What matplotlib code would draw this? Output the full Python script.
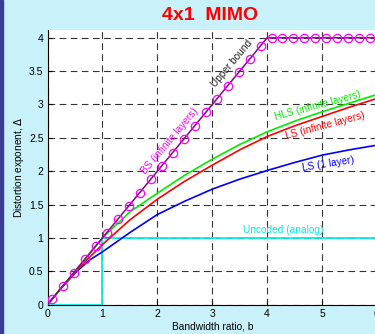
import matplotlib
matplotlib.use("Agg")
import matplotlib.pyplot as plt
from matplotlib.patches import Rectangle

plt.rcParams['font.family'] = ['Liberation Sans', 'DejaVu Sans']

# bandwidth ratio samples for the curves
b = [0, 0.25, 0.5, 0.75, 1.0, 1.5, 2.0, 2.5, 3.0, 3.5, 4.0, 4.5, 5.0, 5.5, 6.0]
hls_inf = [0, 0.25, 0.50, 0.75, 1.00, 1.39, 1.67, 1.94, 2.18, 2.40, 2.59, 2.75, 2.89, 3.02, 3.15]
ls_inf = [0, 0.25, 0.48, 0.70, 0.90, 1.27, 1.58, 1.85, 2.09, 2.32, 2.52, 2.68, 2.82, 2.96, 3.09]
ls_one = [0, 0.25, 0.47, 0.66, 0.79, 1.08, 1.35, 1.55, 1.73, 1.88, 2.01, 2.13, 2.24, 2.32, 2.39]

# upper bound (BS, infinite layers)
ub_b = [0, 4, 6]
ub_d = [0, 4, 4]
ub_mark_b = [0.08, 0.28, 0.48, 0.68, 0.88, 1.08, 1.28, 1.48, 1.68, 1.88,
             2.08, 2.28, 2.48, 2.68, 2.88, 3.08, 3.28, 3.48, 3.68, 3.88,
             4.08, 4.28, 4.48, 4.68, 4.88, 5.08, 5.28, 5.48, 5.68, 5.88]
ub_mark_d = [0.08, 0.28, 0.48, 0.68, 0.88, 1.08, 1.28, 1.48, 1.68, 1.88,
             2.08, 2.28, 2.48, 2.68, 2.88, 3.08, 3.28, 3.48, 3.68, 3.88,
             4, 4, 4, 4, 4, 4, 4, 4, 4, 4]

# uncoded (analog)
unc_b = [0, 1, 1, 6]
unc_d = [0, 0, 1, 1]

xticks = [0, 1, 2, 3, 4, 5, 6]
yticks = [0, 0.5, 1, 1.5, 2, 2.5, 3, 3.5, 4]
ytick_labels = ['0', '0.5', '1', '1.5', '2', '2.5', '3', '3.5', '4']

bg = '#c8f1f9'
fig = plt.figure(figsize=(3.75, 3.34), dpi=100, facecolor=bg)
fig.patches.append(Rectangle((0, 0), 3 / 375, 1, transform=fig.transFigure,
                             color='#3b3b98', zorder=5))
ax = fig.add_axes([0.127, 0.0883, 0.878, 0.8204])
ax.set_facecolor('white')

ax.plot(unc_b, unc_d, color='#00eeee', lw=1.3, zorder=3)
ax.plot(b, ls_one, color='#0000ff', lw=1.2, zorder=3)
ax.plot(b, ls_inf, color='#ff0000', lw=1.2, zorder=3)
ax.plot(b, hls_inf, color='#00ee00', lw=1.2, zorder=3)
ax.plot(ub_b, ub_d, color='#8a008a', lw=1.1, zorder=4)
ax.plot(ub_mark_b, ub_mark_d, ls='none', marker='o', ms=6, mfc='none',
        mec='#ff00ff', mew=0.9, zorder=5)

fs = 7.3
ax.text(3.36, 3.62, 'Upper bound', rotation=50, color='#222222', fontsize=fs,
        ha='center', va='center', rotation_mode='anchor')
ax.text(2.22, 2.45, 'BS (infinite layers)', rotation=50, color='#ff00ff', fontsize=fs,
        ha='center', va='center', rotation_mode='anchor')
ax.text(4.93, 2.98, 'HLS (infinite layers)', rotation=15, color='#00ee00', fontsize=fs,
        ha='center', va='center', rotation_mode='anchor')
ax.text(5.06, 2.68, 'LS (infinite layers)', rotation=15, color='#ff0000', fontsize=fs,
        ha='center', va='center', rotation_mode='anchor')
ax.text(5.11, 2.11, 'LS (1 layer)', rotation=9, color='#0000ff', fontsize=fs,
        ha='center', va='center', rotation_mode='anchor')
ax.text(4.3, 1.12, 'Uncoded (analog)', color='#00eeee', fontsize=fs,
        ha='center', va='center')

ax.set_xlim(0, 6)
ax.set_ylim(0, 4.11)
ax.set_xticks(xticks)
ax.set_yticks(yticks)
ax.set_yticklabels(ytick_labels)
ax.tick_params(direction='in', length=3, labelsize=7.5, pad=3, colors='black')
ax.grid(True, color='black', lw=0.8, linestyle=(0, (6, 4)), alpha=0.8)
ax.spines['top'].set_visible(False)
ax.spines['right'].set_visible(False)
ax.set_xlabel('Bandwidth ratio, b', fontsize=7.3, labelpad=2)
ax.set_ylabel('Distortion exponent, $\\Delta$', fontsize=7.3, labelpad=2)

fig.text(0.56, 0.955, '4x1  MIMO', color='#ff0000', fontsize=14, fontweight='bold',
         ha='center', va='center')

fig.savefig('out.png', dpi=100, facecolor=bg)
